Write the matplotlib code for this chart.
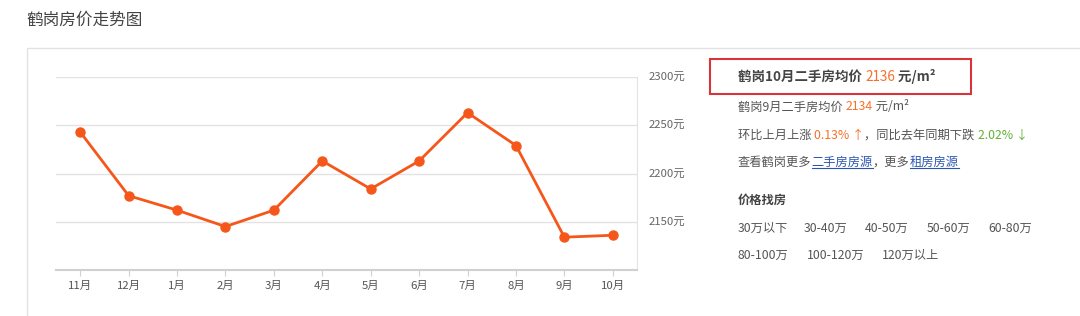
import matplotlib
matplotlib.use('Agg')
import matplotlib.pyplot as plt
from matplotlib.patches import Rectangle

plt.rcParams['font.family'] = ['Noto Sans CJK SC', 'DejaVu Sans']

# 数据
months = ['11月', '12月', '1月', '2月', '3月', '4月', '5月', '6月', '7月', '8月', '9月', '10月']
prices = [2243, 2177, 2162, 2145, 2162, 2213, 2184, 2213, 2263, 2229, 2134, 2136]
yticks = [2150, 2200, 2250, 2300]
price_ranges_1 = ['30万以下', '30-40万', '40-50万', '50-60万', '60-80万']
price_ranges_2 = ['80-100万', '100-120万', '120万以上']

W, H = 1080, 316
fig = plt.figure(figsize=(W / 100, H / 100), dpi=100)
fig.patch.set_facecolor('white')

def fx(px):
    return px / W

def fy(py):
    return 1 - py / H

# 外框
fig.patches.append(Rectangle((fx(27), fy(330)), fx(1100) - fx(27), fy(48) - fy(330),
                             transform=fig.transFigure, fill=False, edgecolor='#e2e2e2', lw=1))

fig.text(fx(26), fy(20), '鹤岗房价走势图', fontsize=12, color='#444444', va='center', ha='left')

# 折线图
ax = fig.add_axes([fx(56), fy(270), fx(637) - fx(56), fy(77) - fy(270)])
x = list(range(len(months)))
ax.plot(x, prices, color='#f5571a', lw=2, marker='o', markersize=6.5, zorder=3)
ax.set_xlim(-0.5, len(months) - 0.5)
ax.set_ylim(2100, 2300)
ax.set_yticks(yticks)
ax.set_yticklabels([f'{v}元' for v in yticks])
ax.yaxis.tick_right()
ax.set_xticks(x)
ax.set_xticklabels(months)
ax.grid(axis='y', color='#e3e3e3', lw=1)
ax.set_axisbelow(True)
for s in ['top', 'left']:
    ax.spines[s].set_visible(False)
ax.spines['right'].set_color('#e3e3e3')
ax.spines['bottom'].set_color('#d0d0d0')
ax.spines['bottom'].set_linewidth(1.5)
ax.tick_params(axis='y', length=0, pad=8, labelsize=8.2, labelcolor='#666666')
ax.tick_params(axis='x', length=4, color='#d0d0d0', pad=4, labelsize=8.2, labelcolor='#555555')

# 右侧信息
renderer = fig.canvas.get_renderer()

def seq(px, py, parts, size=8.8):
    cur = fx(px)
    for item in parts:
        txt, color = item[0], item[1]
        weight = item[2] if len(item) > 2 else 'normal'
        underline = item[3] if len(item) > 3 else False
        t = fig.text(cur, fy(py), txt, fontsize=size, color=color, weight=weight,
                     va='center', ha='left')
        bb = t.get_window_extent(renderer)
        if underline:
            fig.add_artist(plt.Line2D([bb.x0 / W, bb.x1 / W], [fy(py + 6), fy(py + 6)],
                                      transform=fig.transFigure, color=color, lw=0.8))
        cur = bb.x1 / W

fig.patches.append(Rectangle((fx(710), fy(94)), fx(971) - fx(710), fy(59) - fy(94),
                             transform=fig.transFigure, fill=False, edgecolor='#d8343c', lw=1.5))
seq(738, 77, [('鹤岗10月二手房均价 ', '#444444', 'bold'), ('2136', '#f7702a'),
              (' 元/m²', '#444444', 'bold')], size=9.7)
seq(738, 107, [('鹤岗9月二手房均价 ', '#555555'), ('2134', '#f7702a'), (' 元/m²', '#555555')])
seq(738, 135, [('环比上月上涨 ', '#555555'), ('0.13% ↑', '#f7702a'),
               ('，同比去年同期下跌 ', '#555555'), ('2.02% ↓', '#5fb236')])
seq(738, 162, [('查看鹤岗更多', '#555555'), ('二手房房源', '#2a56b0', 'normal', True),
               ('，更多', '#555555'), ('租房房源', '#2a56b0', 'normal', True)])
fig.text(fx(738), fy(200), '价格找房', fontsize=8.8, color='#444444', weight='bold', va='center')

for label, px in zip(price_ranges_1, [738, 804, 865, 927, 988]):
    fig.text(fx(px), fy(228), label, fontsize=8.8, color='#555555', va='center')
for label, px in zip(price_ranges_2, [738, 807, 882]):
    fig.text(fx(px), fy(255), label, fontsize=8.8, color='#555555', va='center')

fig.savefig('out.png', dpi=100)
